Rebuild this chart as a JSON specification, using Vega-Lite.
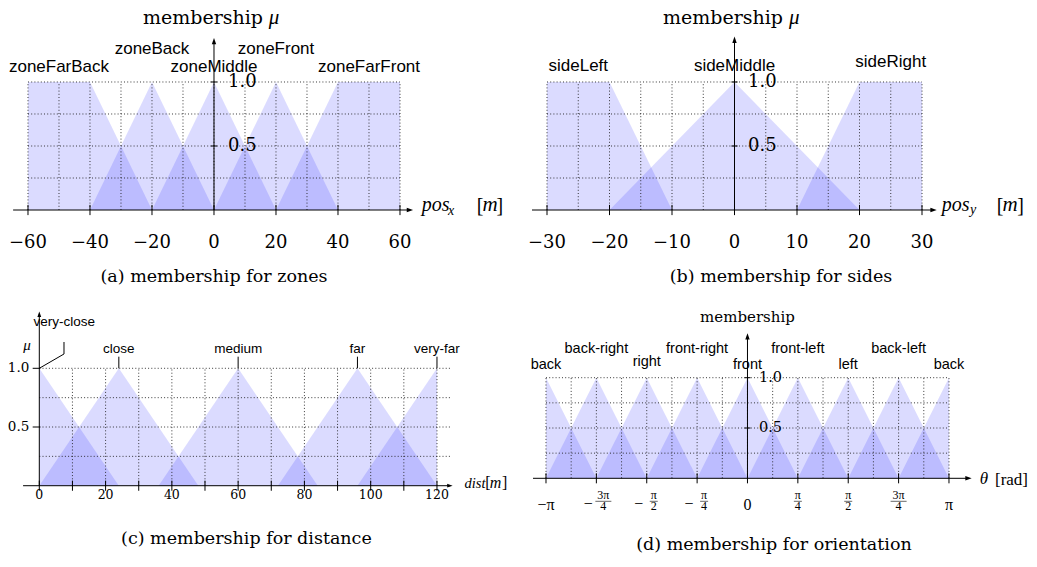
{
"$schema": "https://vega.github.io/schema/vega-lite/v6.json",
"padding": 0,
"spacing": 0,
"background": "white",
"config": {"view": {"stroke": null}, "axis": {"disable": true}, "legend": {"disable": true}, "concat": {"spacing": 0}},
"datasets": {
 "zones": [
  {"set":"zoneFarBack","x":-60,"mu":1},{"set":"zoneFarBack","x":-40,"mu":1},{"set":"zoneFarBack","x":-20,"mu":0},
  {"set":"zoneBack","x":-40,"mu":0},{"set":"zoneBack","x":-20,"mu":1},{"set":"zoneBack","x":0,"mu":0},
  {"set":"zoneMiddle","x":-20,"mu":0},{"set":"zoneMiddle","x":0,"mu":1},{"set":"zoneMiddle","x":20,"mu":0},
  {"set":"zoneFront","x":0,"mu":0},{"set":"zoneFront","x":20,"mu":1},{"set":"zoneFront","x":40,"mu":0},
  {"set":"zoneFarFront","x":20,"mu":0},{"set":"zoneFarFront","x":40,"mu":1},{"set":"zoneFarFront","x":60,"mu":1}
 ],
 "zoneLabels": [
  {"set":"zoneFarBack","center":-50},{"set":"zoneBack","center":-20},{"set":"zoneMiddle","center":0},
  {"set":"zoneFront","center":20},{"set":"zoneFarFront","center":50}
 ],
 "gridA": [{"v":-60},{"v":-50},{"v":-40},{"v":-30},{"v":-20},{"v":-10},{"v":0},{"v":10},{"v":20},{"v":30},{"v":40},{"v":50},{"v":60}],
 "ticksA": [{"v":-60,"label":"−60"},{"v":-40,"label":"−40"},{"v":-20,"label":"−20"},{"v":0,"label":"0"},{"v":20,"label":"20"},{"v":40,"label":"40"},{"v":60,"label":"60"}],
 "gridY": [{"mu":0.25},{"mu":0.5},{"mu":0.75},{"mu":1}],
 "yLabels": [{"mu":0.5,"label":"0.5"},{"mu":1,"label":"1.0"}],
 "sides": [
  {"set":"sideLeft","x":-30,"mu":1},{"set":"sideLeft","x":-20,"mu":1},{"set":"sideLeft","x":-10,"mu":0},
  {"set":"sideMiddle","x":-20,"mu":0},{"set":"sideMiddle","x":0,"mu":1},{"set":"sideMiddle","x":20,"mu":0},
  {"set":"sideRight","x":10,"mu":0},{"set":"sideRight","x":20,"mu":1},{"set":"sideRight","x":30,"mu":1}
 ],
 "sideLabels": [{"set":"sideLeft","center":-25},{"set":"sideMiddle","center":0},{"set":"sideRight","center":25}],
 "gridB": [{"v":-30},{"v":-25},{"v":-20},{"v":-15},{"v":-10},{"v":-5},{"v":0},{"v":5},{"v":10},{"v":15},{"v":20},{"v":25},{"v":30}],
 "ticksB": [{"v":-30,"label":"−30"},{"v":-20,"label":"−20"},{"v":-10,"label":"−10"},{"v":0,"label":"0"},{"v":10,"label":"10"},{"v":20,"label":"20"},{"v":30,"label":"30"}],
 "distance": [
  {"set":"very-close","x":0,"mu":1},{"set":"very-close","x":24,"mu":0},
  {"set":"close","x":0,"mu":0},{"set":"close","x":24,"mu":1},{"set":"close","x":48,"mu":0},
  {"set":"medium","x":36,"mu":0},{"set":"medium","x":60,"mu":1},{"set":"medium","x":84,"mu":0},
  {"set":"far","x":72,"mu":0},{"set":"far","x":96,"mu":1},{"set":"far","x":120,"mu":0},
  {"set":"very-far","x":96,"mu":0},{"set":"very-far","x":120,"mu":1}
 ],
 "distLabels": [{"set":"very-close","center":0},{"set":"close","center":24},{"set":"medium","center":60},{"set":"far","center":96},{"set":"very-far","center":120}],
 "gridC": [{"v":10},{"v":20},{"v":30},{"v":40},{"v":50},{"v":60},{"v":70},{"v":80},{"v":90},{"v":100},{"v":110},{"v":120}],
 "ticksC": [{"v":0,"label":"0"},{"v":10},{"v":20,"label":"20"},{"v":30},{"v":40,"label":"40"},{"v":50},{"v":60,"label":"60"},{"v":70},{"v":80,"label":"80"},{"v":90},{"v":100,"label":"100"},{"v":110},{"v":120,"label":"120"}],
 "orientation": [
  {"set":"back","x":-3.14159,"mu":1},{"set":"back","x":-2.35619,"mu":0},{"set":"back","x":2.35619,"mu":0},{"set":"back","x":3.14159,"mu":1},
  {"set":"back-right","x":-3.14159,"mu":0},{"set":"back-right","x":-2.35619,"mu":1},{"set":"back-right","x":-1.5708,"mu":0},
  {"set":"right","x":-2.35619,"mu":0},{"set":"right","x":-1.5708,"mu":1},{"set":"right","x":-0.7854,"mu":0},
  {"set":"front-right","x":-1.5708,"mu":0},{"set":"front-right","x":-0.7854,"mu":1},{"set":"front-right","x":0,"mu":0},
  {"set":"front","x":-0.7854,"mu":0},{"set":"front","x":0,"mu":1},{"set":"front","x":0.7854,"mu":0},
  {"set":"front-left","x":0,"mu":0},{"set":"front-left","x":0.7854,"mu":1},{"set":"front-left","x":1.5708,"mu":0},
  {"set":"left","x":0.7854,"mu":0},{"set":"left","x":1.5708,"mu":1},{"set":"left","x":2.35619,"mu":0},
  {"set":"back-left","x":1.5708,"mu":0},{"set":"back-left","x":2.35619,"mu":1},{"set":"back-left","x":3.14159,"mu":0}
 ],
 "orientLabels": [
  {"set":"back","center":-3.14159},{"set":"back-right","center":-2.35619},{"set":"right","center":-1.5708},{"set":"front-right","center":-0.7854},
  {"set":"front","center":0},{"set":"front-left","center":0.7854},{"set":"left","center":1.5708},{"set":"back-left","center":2.35619},{"set":"back","center":3.14159}
 ],
 "gridD": [{"v":-3.14159},{"v":-2.74889},{"v":-2.35619},{"v":-1.9635},{"v":-1.5708},{"v":-1.1781},{"v":-0.7854},{"v":-0.3927},{"v":0},{"v":0.3927},{"v":0.7854},{"v":1.1781},{"v":1.5708},{"v":1.9635},{"v":2.35619},{"v":2.74889},{"v":3.14159}],
 "ticksD": [
  {"v":-3.14159,"label":"−π"},{"v":-2.35619,"sign":"−","num":"3π","den":"4"},{"v":-1.5708,"sign":"−","num":"π","den":"2"},{"v":-0.7854,"sign":"−","num":"π","den":"4"},
  {"v":0,"label":"0"},{"v":0.7854,"sign":"","num":"π","den":"4"},{"v":1.5708,"sign":"","num":"π","den":"2"},{"v":2.35619,"sign":"","num":"3π","den":"4"},{"v":3.14159,"label":"π"}
 ]
},
"vconcat": [
 {"hconcat": [
  {
   "width": 518, "height": 292,
   "data": {"values": [{}]},
   "layer": [
    {"data": {"name": "zones"},
     "mark": {"type": "area", "color": "#0000ff", "opacity": 0.14},
     "encoding": {
      "x": {"field": "x", "type": "quantitative", "scale": {"domain": [-69.032, 98.065], "nice": false, "zero": false}},
      "y": {"field": "mu", "type": "quantitative", "stack": null, "scale": {"domain": [-0.6406, 1.6406], "nice": false, "zero": false}},
      "y2": {"datum": 0},
      "detail": {"field": "set", "type": "nominal"}}},
    {"data": {"name": "gridA"}, "mark": {"type":"rule","color":"#222222","strokeWidth":0.9,"strokeDash":[1,2.2]},
     "encoding": {"x": {"field": "v", "type": "quantitative"}, "y": {"datum": 0, "type": "quantitative"}, "y2": {"datum": 1}}},
    {"data": {"name": "gridY"}, "mark": {"type":"rule","color":"#222222","strokeWidth":0.9,"strokeDash":[1,2.2]},
     "encoding": {"y": {"field": "mu", "type": "quantitative"}, "x": {"datum": -60, "type": "quantitative"}, "x2": {"datum": 60}}},
    {"mark": {"type":"rule","color":"#000000","strokeWidth":1},
     "encoding": {"x": {"datum": -64.8, "type": "quantitative"}, "x2": {"datum": 63.2}, "y": {"datum": 0, "type": "quantitative"}}},
    {"mark": {"type":"point","shape":"M -1 -0.7 L 1 0 L -1 0.7 Z","filled":true,"color":"#000000","opacity":1,"size":40},
     "encoding": {"x": {"datum": 63.2, "type": "quantitative"}, "y": {"datum": 0, "type": "quantitative"}}},
    {"mark": {"type":"rule","color":"#000000","strokeWidth":1},
     "encoding": {"x": {"datum": 0, "type": "quantitative"}, "y": {"datum": 0, "type": "quantitative"}, "y2": {"datum": 1.32}}},
    {"mark": {"type":"point","shape":"M -0.7 1 L 0 -1 L 0.7 1 Z","filled":true,"color":"#000000","opacity":1,"size":40},
     "encoding": {"x": {"datum": 0, "type": "quantitative"}, "y": {"datum": 1.32, "type": "quantitative"}}},
    {"data": {"name": "ticksA"}, "mark": {"type":"rule","color":"#000000","strokeWidth":1},
     "encoding": {"x": {"field": "v", "type": "quantitative"}, "y": {"datum": -0.04, "type": "quantitative"}, "y2": {"datum": 0.04}}},
    {"data": {"name": "ticksA"}, "mark": {"type":"text","font":"DejaVu Serif","fontSize":18,"dy":33},
     "encoding": {"x": {"field": "v", "type": "quantitative"}, "y": {"datum": 0, "type": "quantitative"}, "text": {"field": "label"}}},
    {"data": {"name": "yLabels"}, "mark": {"type":"rule","color":"#000000","strokeWidth":1},
     "encoding": {"y": {"field": "mu", "type": "quantitative"}, "x": {"datum": -1, "type": "quantitative"}, "x2": {"datum": 1}}},
    {"data": {"name": "yLabels"}, "mark": {"type":"text","font":"DejaVu Serif","fontSize":18,"align":"left","dx":14},
     "encoding": {"y": {"field": "mu", "type": "quantitative"}, "x": {"datum": 0, "type": "quantitative"}, "text": {"field": "label"}}},
    {"data": {"name": "zoneLabels"}, "transform": [{"filter": "datum.set != 'zoneBack' && datum.set != 'zoneFront'"}],
     "mark": {"type":"text","font":"Liberation Sans","fontSize":17,"baseline":"alphabetic","dy":-10},
     "encoding": {"x": {"field": "center", "type": "quantitative"}, "y": {"datum": 1, "type": "quantitative"}, "text": {"field": "set"}}},
    {"data": {"name": "zoneLabels"}, "transform": [{"filter": "datum.set == 'zoneBack' || datum.set == 'zoneFront'"}],
     "mark": {"type":"text","font":"Liberation Sans","fontSize":17,"baseline":"alphabetic","dy":-28},
     "encoding": {"x": {"field": "center", "type": "quantitative"}, "y": {"datum": 1, "type": "quantitative"}, "text": {"field": "set"}}},
    {"mark": {"type":"text","text":"membership","font":"DejaVu Serif","fontSize":19,"align":"right"},
     "encoding": {"x": {"datum": 15.8, "type": "quantitative"}, "y": {"datum": 1.5, "type": "quantitative"}}},
    {"mark": {"type":"text","text":"μ","font":"Liberation Serif","fontStyle":"italic","fontSize":21,"align":"left"},
     "encoding": {"x": {"datum": 17.7, "type": "quantitative"}, "y": {"datum": 1.5, "type": "quantitative"}}},
    {"mark": {"type":"text","text":"pos","font":"Liberation Serif","fontStyle":"italic","fontSize":20,"align":"left","baseline":"alphabetic","dy":1},
     "encoding": {"x": {"datum": 67.0, "type": "quantitative"}, "y": {"datum": 0, "type": "quantitative"}}},
    {"mark": {"type":"text","text":"x","font":"Liberation Serif","fontStyle":"italic","fontSize":14,"align":"left","baseline":"alphabetic","dy":5},
     "encoding": {"x": {"datum": 75.5, "type": "quantitative"}, "y": {"datum": 0, "type": "quantitative"}}},
    {"mark": {"type":"text","text":"[","font":"Liberation Serif","fontSize":20,"align":"left","baseline":"alphabetic","dy":2},
     "encoding": {"x": {"datum": 84.74, "type": "quantitative"}, "y": {"datum": 0, "type": "quantitative"}}},
    {"mark": {"type":"text","text":"m","font":"Liberation Serif","fontStyle":"italic","fontSize":21,"baseline":"alphabetic","dy":1},
     "encoding": {"x": {"datum": 89.03, "type": "quantitative"}, "y": {"datum": 0, "type": "quantitative"}}},
    {"mark": {"type":"text","text":"]","font":"Liberation Serif","fontSize":20,"align":"right","baseline":"alphabetic","dy":2},
     "encoding": {"x": {"datum": 93.32, "type": "quantitative"}, "y": {"datum": 0, "type": "quantitative"}}},
    {"mark": {"type":"text","text":"(a) membership for zones","font":"DejaVu Serif","fontSize":17.5},
     "encoding": {"x": {"datum": 0, "type": "quantitative"}, "y": {"datum": -0.523, "type": "quantitative"}}}
   ]
  },
  {
   "width": 519, "height": 292,
   "data": {"values": [{}]},
   "layer": [
    {"data": {"name": "sides"},
     "mark": {"type": "area", "color": "#0000ff", "opacity": 0.14},
     "encoding": {
      "x": {"field": "x", "type": "quantitative", "scale": {"domain": [-34.64, 48.4], "nice": false, "zero": false}},
      "y": {"field": "mu", "type": "quantitative", "stack": null, "scale": {"domain": [-0.6406, 1.6406], "nice": false, "zero": false}},
      "y2": {"datum": 0},
      "detail": {"field": "set", "type": "nominal"}}},
    {"data": {"name": "gridB"}, "mark": {"type":"rule","color":"#222222","strokeWidth":0.9,"strokeDash":[1,2.2]},
     "encoding": {"x": {"field": "v", "type": "quantitative"}, "y": {"datum": 0, "type": "quantitative"}, "y2": {"datum": 1}}},
    {"data": {"name": "gridY"}, "mark": {"type":"rule","color":"#222222","strokeWidth":0.9,"strokeDash":[1,2.2]},
     "encoding": {"y": {"field": "mu", "type": "quantitative"}, "x": {"datum": -30, "type": "quantitative"}, "x2": {"datum": 30}}},
    {"mark": {"type":"rule","color":"#000000","strokeWidth":1},
     "encoding": {"x": {"datum": -32.4, "type": "quantitative"}, "x2": {"datum": 31.85}, "y": {"datum": 0, "type": "quantitative"}}},
    {"mark": {"type":"point","shape":"M -1 -0.7 L 1 0 L -1 0.7 Z","filled":true,"color":"#000000","opacity":1,"size":40},
     "encoding": {"x": {"datum": 31.85, "type": "quantitative"}, "y": {"datum": 0, "type": "quantitative"}}},
    {"mark": {"type":"rule","color":"#000000","strokeWidth":1},
     "encoding": {"x": {"datum": 0, "type": "quantitative"}, "y": {"datum": 0, "type": "quantitative"}, "y2": {"datum": 1.33}}},
    {"mark": {"type":"point","shape":"M -0.7 1 L 0 -1 L 0.7 1 Z","filled":true,"color":"#000000","opacity":1,"size":40},
     "encoding": {"x": {"datum": 0, "type": "quantitative"}, "y": {"datum": 1.33, "type": "quantitative"}}},
    {"data": {"name": "ticksB"}, "mark": {"type":"rule","color":"#000000","strokeWidth":1},
     "encoding": {"x": {"field": "v", "type": "quantitative"}, "y": {"datum": -0.04, "type": "quantitative"}, "y2": {"datum": 0.04}}},
    {"data": {"name": "ticksB"}, "mark": {"type":"text","font":"DejaVu Serif","fontSize":18,"dy":33},
     "encoding": {"x": {"field": "v", "type": "quantitative"}, "y": {"datum": 0, "type": "quantitative"}, "text": {"field": "label"}}},
    {"data": {"name": "yLabels"}, "mark": {"type":"rule","color":"#000000","strokeWidth":1},
     "encoding": {"y": {"field": "mu", "type": "quantitative"}, "x": {"datum": -0.5, "type": "quantitative"}, "x2": {"datum": 0.5}}},
    {"data": {"name": "yLabels"}, "mark": {"type":"text","font":"DejaVu Serif","fontSize":18,"align":"left","dx":13.5},
     "encoding": {"y": {"field": "mu", "type": "quantitative"}, "x": {"datum": 0, "type": "quantitative"}, "text": {"field": "label"}}},
    {"data": {"name": "sideLabels"}, "transform": [{"filter": "datum.set != 'sideRight'"}],
     "mark": {"type":"text","font":"Liberation Sans","fontSize":17,"baseline":"alphabetic","dy":-10.5},
     "encoding": {"x": {"field": "center", "type": "quantitative"}, "y": {"datum": 1, "type": "quantitative"}, "text": {"field": "set"}}},
    {"data": {"name": "sideLabels"}, "transform": [{"filter": "datum.set == 'sideRight'"}],
     "mark": {"type":"text","font":"Liberation Sans","fontSize":17,"baseline":"alphabetic","dy":-14.5},
     "encoding": {"x": {"field": "center", "type": "quantitative"}, "y": {"datum": 1, "type": "quantitative"}, "text": {"field": "set"}}},
    {"mark": {"type":"text","text":"membership","font":"DejaVu Serif","fontSize":19,"align":"right"},
     "encoding": {"x": {"datum": 7.76, "type": "quantitative"}, "y": {"datum": 1.5, "type": "quantitative"}}},
    {"mark": {"type":"text","text":"μ","font":"Liberation Serif","fontStyle":"italic","fontSize":21,"align":"left"},
     "encoding": {"x": {"datum": 8.72, "type": "quantitative"}, "y": {"datum": 1.5, "type": "quantitative"}}},
    {"mark": {"type":"text","text":"pos","font":"Liberation Serif","fontStyle":"italic","fontSize":20,"align":"left","baseline":"alphabetic","dy":1},
     "encoding": {"x": {"datum": 33.15, "type": "quantitative"}, "y": {"datum": 0, "type": "quantitative"}}},
    {"mark": {"type":"text","text":"y","font":"Liberation Serif","fontStyle":"italic","fontSize":14,"align":"left","baseline":"alphabetic","dy":4},
     "encoding": {"x": {"datum": 37.68, "type": "quantitative"}, "y": {"datum": 0, "type": "quantitative"}}},
    {"mark": {"type":"text","text":"[","font":"Liberation Serif","fontSize":20,"align":"left","baseline":"alphabetic","dy":2},
     "encoding": {"x": {"datum": 41.95, "type": "quantitative"}, "y": {"datum": 0, "type": "quantitative"}}},
    {"mark": {"type":"text","text":"m","font":"Liberation Serif","fontStyle":"italic","fontSize":21,"baseline":"alphabetic","dy":1},
     "encoding": {"x": {"datum": 44.08, "type": "quantitative"}, "y": {"datum": 0, "type": "quantitative"}}},
    {"mark": {"type":"text","text":"]","font":"Liberation Serif","fontSize":20,"align":"right","baseline":"alphabetic","dy":2},
     "encoding": {"x": {"datum": 46.32, "type": "quantitative"}, "y": {"datum": 0, "type": "quantitative"}}},
    {"mark": {"type":"text","text":"(b) membership for sides","font":"DejaVu Serif","fontSize":17.5},
     "encoding": {"x": {"datum": 7.44, "type": "quantitative"}, "y": {"datum": -0.523, "type": "quantitative"}}}
   ]
  }
 ], "spacing": 0, "bounds": "flush"},
 {"hconcat": [
  {
   "width": 518, "height": 275,
   "data": {"values": [{}]},
   "layer": [
    {"data": {"name": "distance"},
     "mark": {"type": "area", "color": "#0000ff", "opacity": 0.14},
     "encoding": {
      "x": {"field": "x", "type": "quantitative", "scale": {"domain": [-11.86, 144.45], "nice": false, "zero": false}},
      "y": {"field": "mu", "type": "quantitative", "stack": null, "scale": {"domain": [-0.6925, 1.65], "nice": false, "zero": false}},
      "y2": {"datum": 0},
      "detail": {"field": "set", "type": "nominal"}}},
    {"data": {"name": "gridC"}, "mark": {"type":"rule","color":"#222222","strokeWidth":0.9,"strokeDash":[1,2.2]},
     "encoding": {"x": {"field": "v", "type": "quantitative"}, "y": {"datum": 0, "type": "quantitative"}, "y2": {"datum": 1}}},
    {"data": {"name": "gridY"}, "mark": {"type":"rule","color":"#222222","strokeWidth":0.9,"strokeDash":[1,2.2]},
     "encoding": {"y": {"field": "mu", "type": "quantitative"}, "x": {"datum": 0, "type": "quantitative"}, "x2": {"datum": 124.5}}},
    {"mark": {"type":"rule","color":"#000000","strokeWidth":1},
     "encoding": {"x": {"datum": -4.9, "type": "quantitative"}, "x2": {"datum": 123.9}, "y": {"datum": 0, "type": "quantitative"}}},
    {"mark": {"type":"point","shape":"M -1 -0.7 L 1 0 L -1 0.7 Z","filled":true,"color":"#000000","opacity":1,"size":30},
     "encoding": {"x": {"datum": 123.9, "type": "quantitative"}, "y": {"datum": 0, "type": "quantitative"}}},
    {"mark": {"type":"rule","color":"#000000","strokeWidth":1},
     "encoding": {"x": {"datum": 0, "type": "quantitative"}, "y": {"datum": 0, "type": "quantitative"}, "y2": {"datum": 1.46}}},
    {"mark": {"type":"point","shape":"M -0.7 1 L 0 -1 L 0.7 1 Z","filled":true,"color":"#000000","opacity":1,"size":30},
     "encoding": {"x": {"datum": 0, "type": "quantitative"}, "y": {"datum": 1.46, "type": "quantitative"}}},
    {"data": {"name": "ticksC"}, "mark": {"type":"rule","color":"#000000","strokeWidth":1},
     "encoding": {"x": {"field": "v", "type": "quantitative"}, "y": {"datum": -0.043, "type": "quantitative"}, "y2": {"datum": 0.043}}},
    {"data": {"name": "ticksC"}, "transform": [{"filter": "isValid(datum.label)"}],
     "mark": {"type":"text","font":"DejaVu Serif","fontSize":12.5,"dy":9},
     "encoding": {"x": {"field": "v", "type": "quantitative"}, "y": {"datum": 0, "type": "quantitative"}, "text": {"field": "label"}}},
    {"data": {"name": "yLabels"}, "mark": {"type":"rule","color":"#000000","strokeWidth":1},
     "encoding": {"y": {"field": "mu", "type": "quantitative"}, "x": {"datum": -2, "type": "quantitative"}, "x2": {"datum": 0.3}}},
    {"data": {"name": "yLabels"}, "mark": {"type":"text","font":"DejaVu Serif","fontSize":13.5,"align":"right","dx":-10},
     "encoding": {"y": {"field": "mu", "type": "quantitative"}, "x": {"datum": 0, "type": "quantitative"}, "text": {"field": "label"}}},
    {"data": {"name": "distLabels"}, "transform": [{"filter": "datum.set != 'very-close'"}],
     "mark": {"type":"rule","color":"#000000","strokeWidth":1},
     "encoding": {"x": {"field": "center", "type": "quantitative"}, "y": {"datum": 1, "type": "quantitative"}, "y2": {"datum": 1.099}}},
    {"data": {"name": "distLabels"}, "transform": [{"filter": "datum.set != 'very-close'"}],
     "mark": {"type":"text","font":"Liberation Sans","fontSize":13.5,"baseline":"alphabetic","dy":-15},
     "encoding": {"x": {"field": "center", "type": "quantitative"}, "y": {"datum": 1, "type": "quantitative"}, "text": {"field": "set"}}},
    {"data": {"name": "distLabels"}, "transform": [{"filter": "datum.set == 'very-close'"}],
     "mark": {"type":"text","font":"Liberation Sans","fontSize":13.5,"baseline":"alphabetic","dx":25,"dy":-42},
     "encoding": {"x": {"field": "center", "type": "quantitative"}, "y": {"datum": 1, "type": "quantitative"}, "text": {"field": "set"}}},
    {"mark": {"type":"rule","color":"#000000","strokeWidth":1},
     "encoding": {"x": {"datum": 0, "type": "quantitative"}, "y": {"datum": 1, "type": "quantitative"}, "x2": {"datum": 7.45}, "y2": {"datum": 1.122}}},
    {"mark": {"type":"rule","color":"#000000","strokeWidth":1},
     "encoding": {"x": {"datum": 7.45, "type": "quantitative"}, "y": {"datum": 1.122, "type": "quantitative"}, "y2": {"datum": 1.224}}},
    {"mark": {"type":"text","text":"μ","font":"Liberation Serif","fontStyle":"italic","fontSize":15},
     "encoding": {"x": {"datum": -3.71, "type": "quantitative"}, "y": {"datum": 1.198, "type": "quantitative"}}},
    {"mark": {"type":"text","text":"dist","font":"Liberation Serif","fontStyle":"italic","fontSize":14.5,"align":"left","baseline":"alphabetic","dy":2},
     "encoding": {"x": {"datum": 128.3, "type": "quantitative"}, "y": {"datum": 0, "type": "quantitative"}}},
    {"mark": {"type":"text","text":"[","font":"Liberation Serif","fontSize":16,"align":"left","baseline":"alphabetic","dy":2},
     "encoding": {"x": {"datum": 134.6, "type": "quantitative"}, "y": {"datum": 0, "type": "quantitative"}}},
    {"mark": {"type":"text","text":"m","font":"Liberation Serif","fontStyle":"italic","fontSize":16,"baseline":"alphabetic","dy":2},
     "encoding": {"x": {"datum": 137.7, "type": "quantitative"}, "y": {"datum": 0, "type": "quantitative"}}},
    {"mark": {"type":"text","text":"]","font":"Liberation Serif","fontSize":16,"align":"left","baseline":"alphabetic","dy":2},
     "encoding": {"x": {"datum": 139.6, "type": "quantitative"}, "y": {"datum": 0, "type": "quantitative"}}},
    {"mark": {"type":"text","text":"(c) membership for distance","font":"DejaVu Serif","fontSize":17.5},
     "encoding": {"x": {"datum": 62.5, "type": "quantitative"}, "y": {"datum": -0.454, "type": "quantitative"}}}
   ]
  },
  {
   "width": 519, "height": 275,
   "data": {"values": [{}]},
   "layer": [
    {"data": {"name": "orientation"},
     "mark": {"type": "area", "color": "#0000ff", "opacity": 0.14},
     "encoding": {
      "x": {"field": "x", "type": "quantitative", "scale": {"domain": [-3.578, 4.514], "nice": false, "zero": false}},
      "y": {"field": "mu", "type": "quantitative", "stack": null, "scale": {"domain": [-0.8817, 1.8519], "nice": false, "zero": false}},
      "y2": {"datum": 0},
      "detail": {"field": "set", "type": "nominal"}}},
    {"data": {"name": "gridD"}, "mark": {"type":"rule","color":"#222222","strokeWidth":0.9,"strokeDash":[1,2.2]},
     "encoding": {"x": {"field": "v", "type": "quantitative"}, "y": {"datum": 0, "type": "quantitative"}, "y2": {"datum": 1}}},
    {"data": {"name": "gridY"}, "mark": {"type":"rule","color":"#222222","strokeWidth":0.9,"strokeDash":[1,2.2]},
     "encoding": {"y": {"field": "mu", "type": "quantitative"}, "x": {"datum": -3.14159, "type": "quantitative"}, "x2": {"datum": 3.14159}}},
    {"mark": {"type":"rule","color":"#000000","strokeWidth":1},
     "encoding": {"x": {"datum": -3.344, "type": "quantitative"}, "x2": {"datum": 3.446}, "y": {"datum": 0, "type": "quantitative"}}},
    {"mark": {"type":"point","shape":"M -1 -0.7 L 1 0 L -1 0.7 Z","filled":true,"color":"#000000","opacity":1,"size":40},
     "encoding": {"x": {"datum": 3.446, "type": "quantitative"}, "y": {"datum": 0, "type": "quantitative"}}},
    {"mark": {"type":"rule","color":"#000000","strokeWidth":1},
     "encoding": {"x": {"datum": 0, "type": "quantitative"}, "y": {"datum": 0, "type": "quantitative"}, "y2": {"datum": 1.41}}},
    {"mark": {"type":"point","shape":"M -0.7 1 L 0 -1 L 0.7 1 Z","filled":true,"color":"#000000","opacity":1,"size":40},
     "encoding": {"x": {"datum": 0, "type": "quantitative"}, "y": {"datum": 1.41, "type": "quantitative"}}},
    {"data": {"name": "ticksD"}, "mark": {"type":"rule","color":"#000000","strokeWidth":1},
     "encoding": {"x": {"field": "v", "type": "quantitative"}, "y": {"datum": -0.05, "type": "quantitative"}, "y2": {"datum": 0.05}}},
    {"data": {"name": "ticksD"}, "transform": [{"filter": "isValid(datum.label)"}],
     "mark": {"type":"text","font":"Liberation Serif","fontSize":16,"baseline":"alphabetic","dy":31.5},
     "encoding": {"x": {"field": "v", "type": "quantitative"}, "y": {"datum": 0, "type": "quantitative"}, "text": {"field": "label"}}},
    {"data": {"name": "ticksD"}, "transform": [{"filter": "datum.sign == '−'"}],
     "mark": {"type":"text","font":"Liberation Serif","fontSize":16,"baseline":"alphabetic","dx":-8,"dy":30.5},
     "encoding": {"x": {"field": "v", "type": "quantitative"}, "y": {"datum": 0, "type": "quantitative"}, "text": {"field": "sign"}}},
    {"data": {"name": "ticksD"}, "transform": [{"filter": "datum.sign == '−'"}],
     "mark": {"type":"text","font":"Liberation Serif","fontSize":12,"baseline":"alphabetic","dx":7,"dy":20.7},
     "encoding": {"x": {"field": "v", "type": "quantitative"}, "y": {"datum": 0, "type": "quantitative"}, "text": {"field": "num"}}},
    {"data": {"name": "ticksD"}, "transform": [{"filter": "datum.sign == '−'"}],
     "mark": {"type":"text","font":"Liberation Serif","fontSize":12,"baseline":"alphabetic","dx":7,"dy":32},
     "encoding": {"x": {"field": "v", "type": "quantitative"}, "y": {"datum": 0, "type": "quantitative"}, "text": {"field": "den"}}},
    {"data": {"name": "ticksD"}, "transform": [{"filter": "datum.sign == ''"}],
     "mark": {"type":"text","font":"Liberation Serif","fontSize":12,"baseline":"alphabetic","dy":20.7},
     "encoding": {"x": {"field": "v", "type": "quantitative"}, "y": {"datum": 0, "type": "quantitative"}, "text": {"field": "num"}}},
    {"data": {"name": "ticksD"}, "transform": [{"filter": "datum.sign == ''"}],
     "mark": {"type":"text","font":"Liberation Serif","fontSize":12,"baseline":"alphabetic","dy":32},
     "encoding": {"x": {"field": "v", "type": "quantitative"}, "y": {"datum": 0, "type": "quantitative"}, "text": {"field": "den"}}},
    {"data": {"name": "ticksD"}, "transform": [{"filter": "datum.sign == '−' && datum.num == 'π'"}],
     "mark": {"type":"rule","color":"#000000","strokeWidth":0.6,"xOffset":3,"x2Offset":11,"yOffset":23,"y2Offset":23},
     "encoding": {"x": {"field": "v", "type": "quantitative"}, "x2": {"field": "v"}, "y": {"datum": 0, "type": "quantitative"}, "y2": {"datum": 0}}},
    {"data": {"name": "ticksD"}, "transform": [{"filter": "datum.sign == '−' && datum.num == '3π'"}],
     "mark": {"type":"rule","color":"#000000","strokeWidth":0.6,"xOffset":-1,"x2Offset":15,"yOffset":23,"y2Offset":23},
     "encoding": {"x": {"field": "v", "type": "quantitative"}, "x2": {"field": "v"}, "y": {"datum": 0, "type": "quantitative"}, "y2": {"datum": 0}}},
    {"data": {"name": "ticksD"}, "transform": [{"filter": "datum.sign == '' && datum.num == 'π'"}],
     "mark": {"type":"rule","color":"#000000","strokeWidth":0.6,"xOffset":-4,"x2Offset":4,"yOffset":23,"y2Offset":23},
     "encoding": {"x": {"field": "v", "type": "quantitative"}, "x2": {"field": "v"}, "y": {"datum": 0, "type": "quantitative"}, "y2": {"datum": 0}}},
    {"data": {"name": "ticksD"}, "transform": [{"filter": "datum.sign == '' && datum.num == '3π'"}],
     "mark": {"type":"rule","color":"#000000","strokeWidth":0.6,"xOffset":-8,"x2Offset":8,"yOffset":23,"y2Offset":23},
     "encoding": {"x": {"field": "v", "type": "quantitative"}, "x2": {"field": "v"}, "y": {"datum": 0, "type": "quantitative"}, "y2": {"datum": 0}}},
    {"data": {"name": "yLabels"}, "mark": {"type":"rule","color":"#000000","strokeWidth":1},
     "encoding": {"y": {"field": "mu", "type": "quantitative"}, "x": {"datum": -0.047, "type": "quantitative"}, "x2": {"datum": 0.047}}},
    {"data": {"name": "yLabels"}, "mark": {"type":"text","font":"DejaVu Serif","fontSize":14.5,"align":"left","dx":11.5},
     "encoding": {"y": {"field": "mu", "type": "quantitative"}, "x": {"datum": 0, "type": "quantitative"}, "text": {"field": "label"}}},
    {"data": {"name": "orientLabels"}, "transform": [{"filter": "datum.set == 'back' || datum.set == 'front' || datum.set == 'left'"}],
     "mark": {"type":"text","font":"Liberation Sans","fontSize":14.5,"baseline":"alphabetic","dy":-9},
     "encoding": {"x": {"field": "center", "type": "quantitative"}, "y": {"datum": 1, "type": "quantitative"}, "text": {"field": "set"}}},
    {"data": {"name": "orientLabels"}, "transform": [{"filter": "datum.set == 'right'"}],
     "mark": {"type":"text","font":"Liberation Sans","fontSize":14.5,"baseline":"alphabetic","dy":-12},
     "encoding": {"x": {"field": "center", "type": "quantitative"}, "y": {"datum": 1, "type": "quantitative"}, "text": {"field": "set"}}},
    {"data": {"name": "orientLabels"}, "transform": [{"filter": "indexof(datum.set, '-') >= 0"}],
     "mark": {"type":"text","font":"Liberation Sans","fontSize":14.5,"baseline":"alphabetic","dy":-25},
     "encoding": {"x": {"field": "center", "type": "quantitative"}, "y": {"datum": 1, "type": "quantitative"}, "text": {"field": "set"}}},
    {"mark": {"type":"text","text":"membership","font":"DejaVu Serif","fontSize":15},
     "encoding": {"x": {"datum": 0, "type": "quantitative"}, "y": {"datum": 1.606, "type": "quantitative"}}},
    {"mark": {"type":"text","text":"θ","font":"Liberation Serif","fontStyle":"italic","fontSize":17,"dy":1},
     "encoding": {"x": {"datum": 3.687, "type": "quantitative"}, "y": {"datum": 0, "type": "quantitative"}}},
    {"mark": {"type":"text","text":"[rad]","font":"Liberation Serif","fontSize":17,"align":"left","dy":1.5},
     "encoding": {"x": {"datum": 3.859, "type": "quantitative"}, "y": {"datum": 0, "type": "quantitative"}}},
    {"mark": {"type":"text","text":"(d) membership for orientation","font":"DejaVu Serif","fontSize":17.5},
     "encoding": {"x": {"datum": 0.413, "type": "quantitative"}, "y": {"datum": -0.663, "type": "quantitative"}}}
   ]
  }
 ], "spacing": 0, "bounds": "flush"}
]
}
